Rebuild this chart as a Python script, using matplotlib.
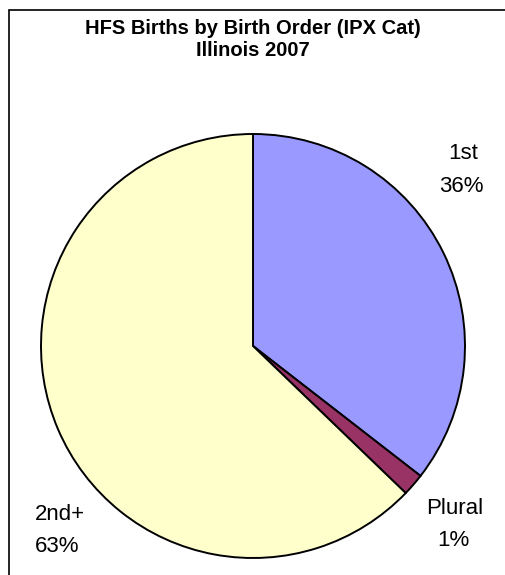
import matplotlib.pyplot as plt
from matplotlib.patches import Rectangle

# birth order shares (%)
categories = ["1st", "Plural", "2nd+"]
shares = [35.5, 1.7, 62.8]
pct_labels = ["36%", "1%", "63%"]
colors = ["#9999FF", "#993366", "#FFFFCC"]

W, H = 506, 575
fig = plt.figure(figsize=(W / 100, H / 100), dpi=100)
plt.rcParams['font.family'] = ['Liberation Sans', 'DejaVu Sans']

# chart border (only top and left edges fall inside the picture)
fig.patches.append(Rectangle((9.5 / W, -0.1), 1.2, 1.1 - 10.5 / H, transform=fig.transFigure,
                             fill=False, edgecolor="black", linewidth=1.2))

cx, cy, r = 253, 346, 212
ax = fig.add_axes([(cx - r) / W, (H - cy - r) / H, 2 * r / W, 2 * r / H])
ax.pie(shares, colors=colors, startangle=90, counterclock=False,
       wedgeprops=dict(edgecolor="black", linewidth=1.4))
ax.set_xlim(-1, 1)
ax.set_ylim(-1, 1)
ax.set_aspect("equal")
ax.axis("off")

fig.text(0.5, 1 - 28 / H, "HFS Births by Birth Order (IPX Cat)", ha="center", va="center",
         fontsize=14.5, fontweight="bold")
fig.text(0.5, 1 - 50 / H, "Illinois 2007", ha="center", va="center",
         fontsize=14.5, fontweight="bold")

# data labels placed like the Excel chart
label_pos = [(463, 154, "center"), (455, 509, "center"), (35, 514, "left")]
for (x, y, ha), cat, pct in zip(label_pos, categories, pct_labels):
    fig.text(x / W, 1 - y / H, cat, ha=ha, va="center", fontsize=16)
    fig.text((x - (0 if ha == "left" else 2)) / W, 1 - (y + 32) / H, pct, ha=ha,
             va="center", fontsize=16)

fig.savefig("out.png", dpi=100)
